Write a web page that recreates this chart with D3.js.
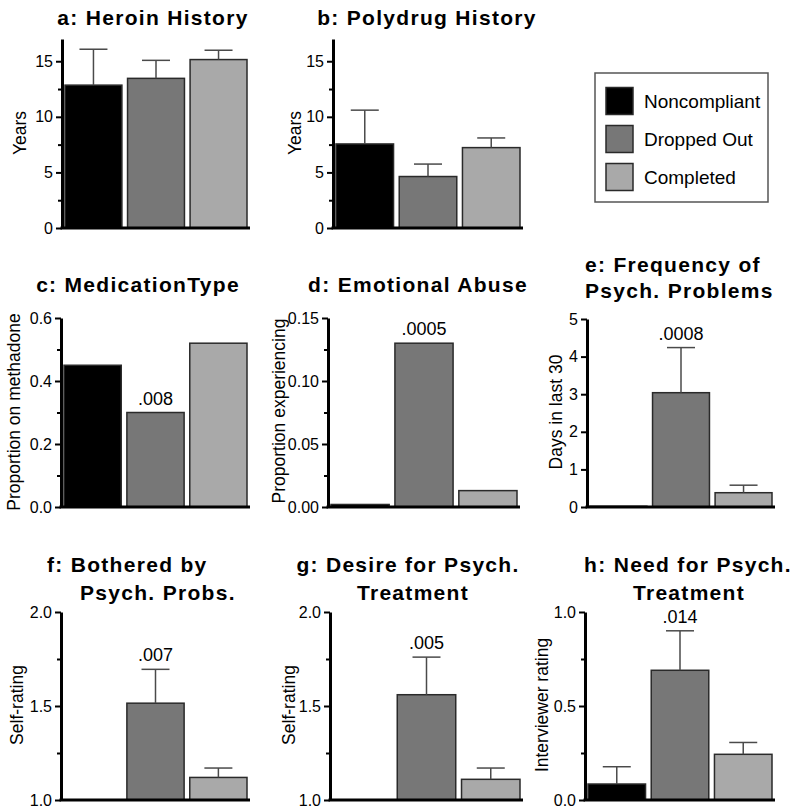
<!DOCTYPE html>
<html><head><meta charset="utf-8">
<script src="https://cdn.jsdelivr.net/npm/d3@7"></script>
<style>
body{margin:0;background:#fff}
svg{display:block}
text{font-family:"Liberation Sans",Arial,sans-serif;fill:#000}
</style>
</head><body>
<svg id="chart" width="800" height="812"></svg>
<script>
// ---------------- DATA ----------------
const groups = ["Noncompliant", "Dropped Out", "Completed"];
const heroinMean = [12.85, 13.46, 15.15];
const heroinSem  = [3.23, 1.62, 0.84];
const polyMean   = [7.56, 4.63, 7.23];
const polySem    = [3.04, 1.12, 0.87];
const methadoneProp = [0.45, 0.30, 0.52];
const abuseProp  = [0.002, 0.13, 0.013];
const psychDaysMean = [0.02, 3.04, 0.38];
const psychDaysSem  = [0, 1.20, 0.20];
const botheredMean = [1.0, 1.515, 1.12];
const botheredSem  = [0, 0.18, 0.05];
const desireMean = [1.0, 1.56, 1.11];
const desireSem  = [0, 0.20, 0.06];
const needMean = [0.085, 0.69, 0.243];
const needSem  = [0.092, 0.21, 0.063];
const pValues = [null, null, ".008", ".0005", ".0008", ".007", ".005", ".014"];

const yearTicks = [0, 5, 10, 15], yearMinor = [2.5, 7.5, 12.5];
const propTicks = [0, 0.2, 0.4, 0.6], propMinor = [0.1, 0.3, 0.5];
const abuseTicks = [0, 0.05, 0.10, 0.15], abuseMinor = [0.025, 0.075, 0.125];
const daysTicks = [0, 1, 2, 3, 4, 5], daysMinor = [];
const ratingTicks = [1.0, 1.5, 2.0], ratingMinor = [1.25, 1.75];
const needTicks = [0, 0.5, 1.0], needMinor = [0.25, 0.75];

const titles = [
  ["a: Heroin History"], ["b: Polydrug History"], ["c: MedicationType"], ["d: Emotional Abuse"],
  ["e: Frequency of", "Psych. Problems"], ["f: Bothered by", "Psych. Probs."],
  ["g: Desire for Psych.", "Treatment"], ["h: Need for Psych.", "Treatment"]
];
const yTitles = ["Years", "Years", "Proportion on methadone", "Proportion experiencing",
  "Days in last 30", "Self-rating", "Self-rating", "Interviewer rating"];

// ---------------- LAYOUT / STYLE ----------------
const colors = ["#000000", "#777777", "#a9a9a9"];
const panels = [
  {mean: heroinMean, sem: heroinSem, dom: [0, 17], ticks: yearTicks, minor: yearMinor, fmt: d3.format("d"),
   x0: 62, x1: 250, yT: 39, yB: 228, tl: [{x: 153, y: 25, a: "middle"}], yl: {x: 20, y: 133}},
  {mean: polyMean, sem: polySem, dom: [0, 17], ticks: yearTicks, minor: yearMinor, fmt: d3.format("d"),
   x0: 333, x1: 523, yT: 39, yB: 228, tl: [{x: 427, y: 25, a: "middle"}], yl: {x: 295, y: 133}},
  {mean: methadoneProp, sem: null, dom: [0, 0.6], ticks: propTicks, minor: propMinor, fmt: d3.format(".1f"),
   x0: 61, x1: 250, yT: 318, yB: 507, tl: [{x: 138, y: 292, a: "middle"}], yl: {x: 14, y: 412}},
  {mean: abuseProp, sem: null, dom: [0, 0.15], ticks: abuseTicks, minor: abuseMinor, fmt: d3.format(".2f"),
   x0: 328, x1: 520, yT: 318, yB: 507, tl: [{x: 418, y: 292, a: "middle"}], yl: {x: 279, y: 411}},
  {mean: psychDaysMean, sem: psychDaysSem, dom: [0, 5], ticks: daysTicks, minor: daysMinor, fmt: d3.format("d"),
   x0: 587, x1: 775, yT: 319, yB: 507, tl: [{x: 585, y: 272, a: "start"}, {x: 585, y: 298, a: "start"}], yl: {x: 556, y: 412}},
  {mean: botheredMean, sem: botheredSem, dom: [1, 2], ticks: ratingTicks, minor: ratingMinor, fmt: d3.format(".1f"),
   x0: 61, x1: 250, yT: 612, yB: 800, tl: [{x: 47, y: 572, a: "start"}, {x: 80, y: 600, a: "start"}], yl: {x: 17, y: 705}},
  {mean: desireMean, sem: desireSem, dom: [1, 2], ticks: ratingTicks, minor: ratingMinor, fmt: d3.format(".1f"),
   x0: 330, x1: 523, yT: 612, yB: 800, tl: [{x: 408, y: 572, a: "middle"}, {x: 413, y: 600, a: "middle"}], yl: {x: 289, y: 705}},
  {mean: needMean, sem: needSem, dom: [0, 1], ticks: needTicks, minor: needMinor, fmt: d3.format(".1f"),
   x0: 585, x1: 775, yT: 612, yB: 800, tl: [{x: 688, y: 572, a: "middle"}, {x: 689, y: 600, a: "middle"}], yl: {x: 542, y: 705}}
];

const svg = d3.select("#chart");

panels.forEach((p, i) => {
  const g = svg.append("g");
  const y = d3.scaleLinear().domain(p.dom).range([p.yB, p.yT]);
  const x = d3.scaleBand().domain(groups).range([p.x0 + 3, p.x1 - 3]).paddingInner(0.09);
  const bw = x.bandwidth();

  // bars
  groups.forEach((grp, j) => {
    const v = p.mean[j];
    if (v > p.dom[0]) {
      g.append("rect")
        .attr("x", x(grp)).attr("y", y(v))
        .attr("width", bw).attr("height", y(p.dom[0]) - y(v))
        .attr("fill", colors[j]).attr("stroke", "#2a2a2a").attr("stroke-width", 1.5);
    }
  });
  // error bars
  if (p.sem) {
    groups.forEach((grp, j) => {
      const s = p.sem[j];
      if (!s) return;
      const cx = x(grp) + bw / 2, v = p.mean[j];
      g.append("line").attr("x1", cx).attr("x2", cx).attr("y1", y(v)).attr("y2", y(v + s))
        .attr("stroke", "#4a4a4a").attr("stroke-width", 1.5);
      g.append("line").attr("x1", cx - 14).attr("x2", cx + 14).attr("y1", y(v + s)).attr("y2", y(v + s))
        .attr("stroke", "#4a4a4a").attr("stroke-width", 1.5);
    });
  }
  // p-value annotation
  if (pValues[i]) {
    const v = p.mean[1] + (p.sem ? p.sem[1] : 0);
    g.append("text").attr("x", x(groups[1]) + bw / 2).attr("y", y(v) - 8)
      .attr("text-anchor", "middle").style("font-size", "18px").text(pValues[i]);
  }

  // minor ticks
  const minorAx = g.append("g").attr("transform", `translate(${p.x0},0)`)
    .call(d3.axisLeft(y).tickValues(p.minor).tickSize(4).tickFormat(""));
  minorAx.select(".domain").remove();
  minorAx.selectAll("line").attr("stroke", "#000").attr("stroke-width", 2);
  // major axis
  const ax = g.append("g").attr("transform", `translate(${p.x0},0)`)
    .call(d3.axisLeft(y).tickValues(p.ticks).tickSize(6).tickSizeOuter(0).tickPadding(3).tickFormat(p.fmt));
  ax.select(".domain").attr("stroke", "#000").attr("stroke-width", 3);
  ax.selectAll(".tick line").attr("stroke", "#000").attr("stroke-width", 2);
  ax.selectAll(".tick text").style("font-size", "16px").style("font-family", "'Liberation Sans',Arial,sans-serif").attr("fill", "#111");
  // x axis baseline
  g.append("line").attr("x1", p.x0 - 1.5).attr("x2", p.x1).attr("y1", p.yB).attr("y2", p.yB)
    .attr("stroke", "#000").attr("stroke-width", 3);

  // y title
  g.append("text").attr("transform", `translate(${p.yl.x},${p.yl.y}) rotate(-90)`)
    .attr("text-anchor", "middle").attr("dy", "0.35em").style("font-size", "17.5px").text(yTitles[i]);
  // panel title
  titles[i].forEach((t, k) => {
    g.append("text").attr("x", p.tl[k].x).attr("y", p.tl[k].y).attr("text-anchor", p.tl[k].a)
      .style("font-size", "21px").style("font-weight", "bold").style("letter-spacing", "1.3px").text(t);
  });
});

// legend
const leg = svg.append("g");
leg.append("rect").attr("x", 595).attr("y", 73).attr("width", 173).attr("height", 129)
  .attr("fill", "#fff").attr("stroke", "#555").attr("stroke-width", 1.5);
const legY = d3.scalePoint().domain(groups).range([101, 177]);
groups.forEach((grp, j) => {
  leg.append("rect").attr("x", 606).attr("y", legY(grp) - 13.5).attr("width", 27).attr("height", 27)
    .attr("fill", colors[j]).attr("stroke", "#2a2a2a").attr("stroke-width", 1.5);
  leg.append("text").attr("x", 644).attr("y", legY(grp)).attr("dy", "0.35em")
    .style("font-size", "19px").text(grp);
});
</script>
</body></html>
